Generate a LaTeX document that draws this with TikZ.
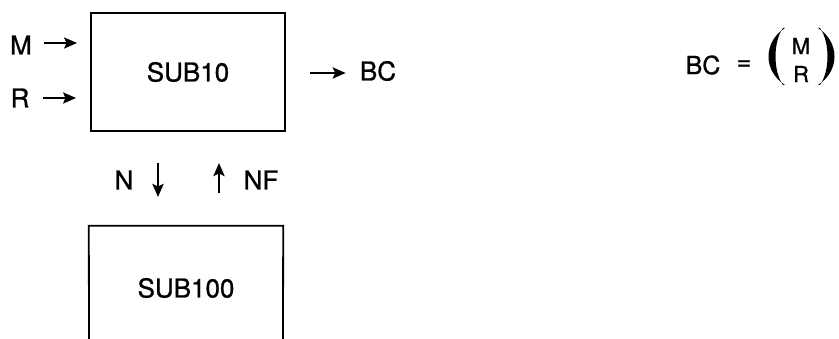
\documentclass[tikz,border=0pt]{standalone}
\usepackage{fontspec}
\setmainfont{TeX Gyre Heros}
\newfontfamily\lblfont[FakeBold=1]{TeX Gyre Heros}
\usetikzlibrary{arrows.meta,calc}
\begin{document}
\begin{tikzpicture}[x=1pt,y=-1pt,
  lbl/.style={inner sep=0pt,font=\lblfont\fontsize{26}{30}\selectfont},
  mid/.style={inner sep=0pt,font=\lblfont\fontsize{25}{29}\selectfont},
  small/.style={inner sep=0pt,font=\lblfont\fontsize{22}{26}\selectfont},
  boxline/.style={line width=1.8pt},
  arr/.style={line width=2.8pt,-{Stealth[length=13pt,width=11pt,inset=2.5pt]}}]
\useasboundingbox (0,0) rectangle (839,339);
% boxes
\node[boxline,draw,minimum width=194,minimum height=118,inner sep=0pt,lbl] (sub10) at (188,72) {SUB10};
\node[minimum width=194,minimum height=124,inner sep=0pt,lbl] (sub100) at (186,288) {SUB100};
\coordinate (sbl) at (89,345);
\coordinate (sbr) at (283,345);
\draw[boxline] (sbl) -- (sub100.north west) -- (sub100.north east) -- (sbr);
% inputs
\node[lbl] (M) at (21,45) {M};
\node[lbl] (R) at (20,98) {R};
\draw[arr,shorten <=12pt,shorten >=13pt] (M.east |- 0,43) -- (sub10.west |- 0,43);
\draw[arr,shorten <=13pt,shorten >=14pt] (R.east |- 0,98) -- (sub10.west |- 0,98);
% output
\node[lbl] (BC) at (378,71) {BC};
\draw[arr,shorten <=24pt,shorten >=14pt] (sub10.east |- 0,73) -- (BC.west |- 0,73);
% N / NF
\node[lbl] (N) at (124,180) {N};
\node[lbl] (NF) at (261,180) {NF};
\coordinate (n1) at (158,130);
\coordinate (n2) at (158,226);
\coordinate (f1) at (219,226);
\coordinate (f2) at (219,130);
\draw[arr,shorten <=33pt,shorten >=29pt] (n1) -- (n2);
\draw[arr,shorten <=33pt,shorten >=33pt] (f1) -- (f2);
% formula
\node[mid] (fBC) at (703,65) {BC};
\node[mid] (eq) at (744,65) {=};
\node[small] (fM) at (801,46) {M};
\node[small] (fR) at (801,74) {R};
\fill (785,28) .. controls (763,42) and (763,71) .. (785,85)
      -- (783,85) .. controls (773,71) and (773,42) .. (783,28) -- cycle;
\fill (818,28) .. controls (840,42) and (840,71) .. (818,85)
      -- (820,85) .. controls (830,71) and (830,42) .. (820,28) -- cycle;
\end{tikzpicture}
\end{document}
